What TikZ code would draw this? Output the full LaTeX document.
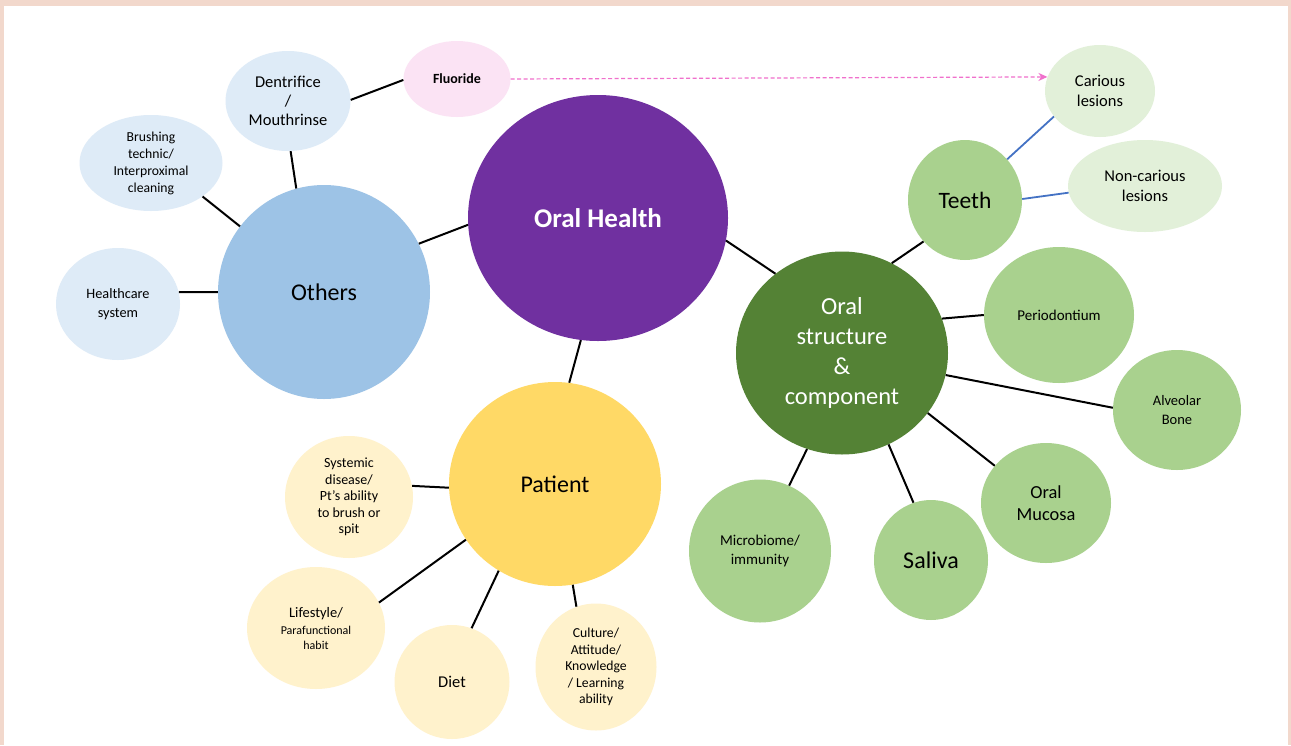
\documentclass[tikz,border=0pt]{standalone}
\usepackage{fontspec}
\setmainfont{Carlito}
\usetikzlibrary{shapes.geometric,arrows.meta}
\definecolor{frame}{HTML}{F2D8CC}
\definecolor{hubpurple}{HTML}{7030A0}
\definecolor{othersblue}{HTML}{9DC3E6}
\definecolor{lightblue}{HTML}{DEEBF7}
\definecolor{fluorpink}{HTML}{FBE3F4}
\definecolor{patientgold}{HTML}{FFD966}
\definecolor{lightgold}{HTML}{FFF2CC}
\definecolor{darkgreen}{HTML}{548235}
\definecolor{midgreen}{HTML}{A9D18E}
\definecolor{palegreen}{HTML}{E2F0D9}
\definecolor{linkblue}{HTML}{4472C4}
\definecolor{arrowpink}{HTML}{F070CC}
\newcommand{\fs}[2]{\fontsize{#1}{#2}\selectfont}
\tikzset{
  bub/.style={ellipse, inner sep=0pt, align=center, text=black},
  link/.style={line width=2pt, black},
  bluelink/.style={line width=1.8pt, linkblue},
}
\begin{document}
\begin{tikzpicture}[x=1pt,y=-1pt]
% page frame
\fill[frame] (0,0) rectangle (1291,745);
\fill[white] (4,6) rectangle (1288,745);
\useasboundingbox (0,0) rectangle (1291,745);

% central hubs
\node[bub, fill=hubpurple, minimum width=260pt, minimum height=246pt, text=white, font=\bfseries\fs{27}{32}] (oh) at (598,218) {Oral Health};
\node[bub, fill=othersblue, minimum width=212pt, minimum height=214pt, font=\fs{24}{28}] (oth) at (324,292) {Others};
\node[bub, fill=patientgold, minimum width=212pt, minimum height=204pt, font=\fs{24}{28}] (pat) at (555,484) {Patient};
\node[bub, fill=darkgreen, minimum width=212pt, minimum height=203pt, text=white, font=\fs{24.5}{30}] (osc) at (842,353) {Oral\\structure\\\&\\component};

% "Others" satellites
\node[bub, fill=lightblue, minimum width=125pt, minimum height=100pt, font=\fs{16.5}{19}] (den) at (288,101) {Dentrifice\\/\\Mouthrinse};
\node[bub, fill=fluorpink, minimum width=107pt, minimum height=76pt, font=\bfseries\fs{14}{17}] (flu) at (457,79) {Fluoride};
\node[bub, fill=lightblue, minimum width=143pt, minimum height=96pt, font=\fs{13.7}{17}] (bru) at (151,163) {Brushing\\technic/\\Interproximal\\cleaning};
\node[bub, fill=lightblue, minimum width=124pt, minimum height=112pt, font=\fs{14.3}{19}] (hcs) at (118,304) {Healthcare\\system};

% "Patient" satellites
\node[bub, fill=lightgold, minimum width=128pt, minimum height=122pt, font=\fs{14}{16.5}] (sys) at (349,497) {Systemic\\disease/\\Pt's ability\\to brush or\\spit};
\node[bub, fill=lightgold, minimum width=138pt, minimum height=122pt] (lif) at (316,628) {{\fs{14.5}{17}Lifestyle/}\\[5pt]{\fs{12}{15}Parafunctional}\\[3pt]{\fs{12}{15}habit}};
\node[bub, fill=lightgold, minimum width=115pt, minimum height=114pt, font=\fs{16.5}{20}] (die) at (452,682) {Diet};
\node[bub, fill=lightgold, minimum width=121pt, minimum height=127pt, font=\fs{13.7}{16.5}] (cul) at (596,667) {Culture/\\Attitude/\\Knowledge\\/ Learning\\ability};

% "Oral structure" satellites
\node[bub, fill=midgreen, minimum width=114pt, minimum height=120pt, font=\fs{23.5}{28}] (tee) at (965,200) {Teeth};
\node[bub, fill=palegreen, minimum width=110pt, minimum height=92pt, font=\fs{16.5}{19.5}] (car) at (1100,91) {Carious\\lesions};
\node[bub, fill=palegreen, minimum width=154pt, minimum height=92pt, font=\fs{16.5}{19.5}] (ncar) at (1145,186) {Non-carious\\lesions};
\node[bub, fill=midgreen, minimum width=150pt, minimum height=136pt, font=\fs{15}{18}] (per) at (1059,315) {Periodontium};
\node[bub, fill=midgreen, minimum width=128pt, minimum height=120pt, font=\fs{14.5}{19}] (alv) at (1177,410) {Alveolar\\Bone};
\node[bub, fill=midgreen, minimum width=130pt, minimum height=120pt, font=\fs{18.4}{22}] (muc) at (1046,503) {Oral\\Mucosa};
\node[bub, fill=midgreen, minimum width=114pt, minimum height=120pt, font=\fs{24}{28}] (sal) at (931,560) {Saliva};
\node[bub, fill=midgreen, minimum width=142pt, minimum height=143pt, font=\fs{15}{19}] (mic) at (760,551) {Microbiome/\\immunity};

% connectors (border anchors by angle)
\draw[link] (den.-87) -- (oth.105);
\draw[link] (bru.-33) -- (oth.142);
\draw[link] (hcs.11) -- (oth.180);
\draw[link] (den.1) -- (flu.-179);
\draw[link] (oth.27) -- (oh.-177);
\draw[link] (oh.-10) -- (osc.130);
\draw[link] (oh.-98) -- (pat.82);
\draw[link] (pat.-178) -- (sys.10);
\draw[link] (pat.-148) -- (lif.22);
\draw[link] (pat.-123) -- (die.70);
\draw[link] (pat.-80) -- (cul.108);
\draw[link] (osc.61) -- (tee.225);
\draw[link] (osc.19) -- (per.180);
\draw[link] (osc.-12) -- (alv.178);
\draw[link] (osc.-35) -- (muc.144);
\draw[link] (osc.-63) -- (sal.107);
\draw[link] (osc.-110) -- (mic.66);
\draw[bluelink] (tee.44) -- (car.209);
\draw[bluelink] (tee.1) -- (ncar.185);

% fluoride acts on carious lesions
\draw[arrowpink, line width=1.2pt, dash pattern=on 4pt off 2.5pt, -{Stealth[length=9pt,width=8pt]}] (flu.east) -- (car.165);
\end{tikzpicture}
\end{document}
